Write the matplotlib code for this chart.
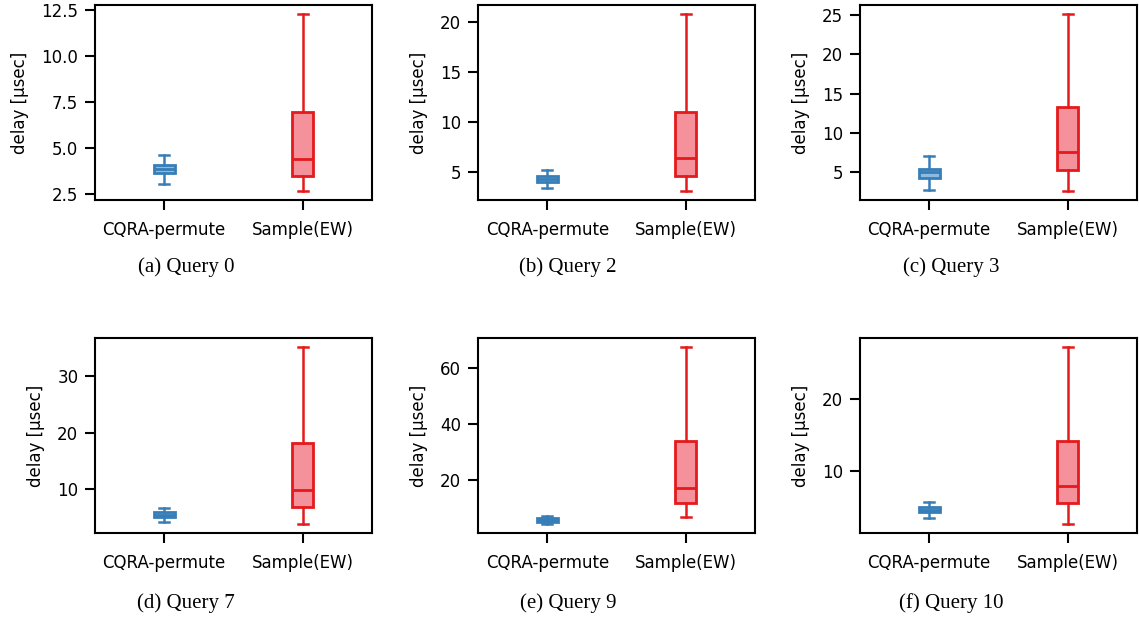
import matplotlib
matplotlib.use('Agg')
import matplotlib.pyplot as plt

plt.rcParams['font.family'] = ['DejaVu Sans']

# box statistics: whislo, q1, med, q3, whishi
methods = ['CQRA-permute', 'Sample(EW)']
captions = ['(a) Query 0', '(b) Query 2', '(c) Query 3',
            '(d) Query 7', '(e) Query 9', '(f) Query 10']

cqra_stats = [
    [3.08, 3.64, 3.86, 4.09, 4.63],
    [3.32, 3.96, 4.25, 4.53, 5.13],
    [2.70, 4.23, 5.00, 5.43, 7.00],
    [4.27, 5.03, 5.50, 5.92, 6.75],
    [4.24, 4.84, 5.60, 6.39, 7.00],
    [3.58, 4.33, 4.65, 5.03, 5.73],
]
sample_stats = [
    [2.68, 3.49, 4.40, 6.99, 12.28],
    [3.05, 4.56, 6.33, 10.98, 20.80],
    [2.57, 5.26, 7.60, 13.30, 25.17],
    [3.84, 6.86, 9.88, 18.17, 35.15],
    [6.75, 11.76, 17.10, 33.97, 67.50],
    [2.66, 5.60, 8.00, 14.24, 27.20],
]
yticks = [
    [2.5, 5.0, 7.5, 10.0, 12.5],
    [5, 10, 15, 20],
    [5, 10, 15, 20, 25],
    [10, 20, 30],
    [20, 40, 60],
    [10, 20],
]

colors = ['#377eb8', '#e41a1c']
fills = ['#8dbbe0', '#f4919b']

fig = plt.figure(figsize=(11.39, 6.2), dpi=100)

lefts = [0.0834, 0.4197, 0.755]
bottoms = [0.6774, 0.1403]
w, h = 0.2432, 0.3145
cap_x = [186 / 1139, 568 / 1139, 951 / 1139]
cap_y = [1 - 267 / 620, 1 - 603 / 620]

for i in range(6):
    r, c = divmod(i, 3)
    ax = fig.add_axes([lefts[c], bottoms[r], w, h])
    stats = []
    for name, s in zip(methods, [cqra_stats[i], sample_stats[i]]):
        stats.append(dict(label=name, whislo=s[0], q1=s[1], med=s[2],
                          q3=s[3], whishi=s[4], fliers=[]))
    bp = ax.bxp(stats, positions=[1, 2], widths=0.15, patch_artist=True,
                showfliers=False)
    for k, col in enumerate(colors):
        bp['boxes'][k].set(facecolor=fills[k], edgecolor=col, linewidth=2)
        bp['medians'][k].set(color=col, linewidth=2)
        for j in (2 * k, 2 * k + 1):
            bp['whiskers'][j].set(color=col, linewidth=1.8)
            bp['caps'][j].set(color=col, linewidth=1.8)
    ax.set_xlim(0.5, 2.5)
    ax.set_yticks(yticks[i])
    ax.set_xticklabels(methods, fontsize=12)
    ax.tick_params(axis='y', labelsize=12, length=7, width=1.5, pad=5)
    ax.tick_params(axis='x', length=7, width=1.5, pad=8)
    ax.set_ylabel('delay [µsec]', fontsize=12, labelpad=9)
    for sp in ax.spines.values():
        sp.set_linewidth(1.5)
    fig.text(cap_x[c], cap_y[r], captions[i], ha='center', va='center',
             fontsize=15, family='Liberation Serif')

fig.savefig('out.png', dpi=100)
